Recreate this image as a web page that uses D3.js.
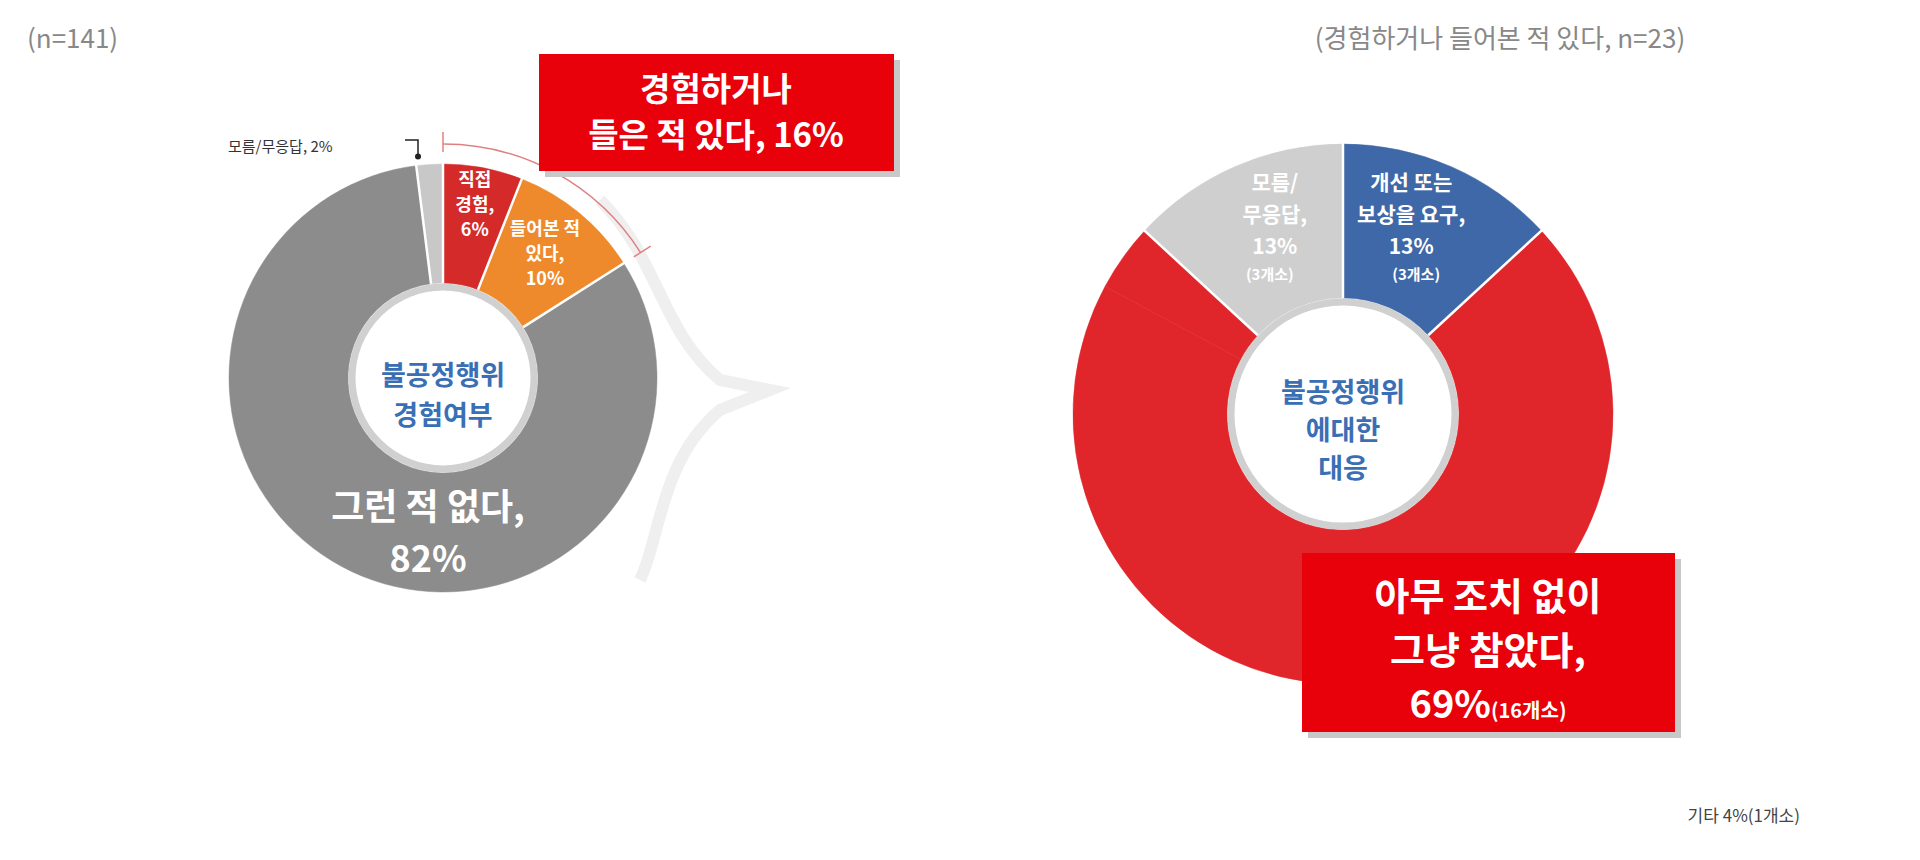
<!DOCTYPE html><html><head><meta charset="utf-8">
<script src="https://cdn.jsdelivr.net/npm/d3@7"></script>
<style>body{margin:0;background:#fff}svg{font-family:"Noto Sans CJK KR","Noto Sans",sans-serif}</style></head><body>
<svg id="c" width="1920" height="860"></svg>
<script>
const leftCats=["직접 경험","들어본 적 있다","그런 적 없다","모름/무응답"];
const leftVals=[6,10,82,2];
const leftColors=["#d42a2a","#ee8a2c","#8c8c8c","#c8c8c8"];
const rightCats=["개선 또는 보상을 요구","아무 조치 없이 그냥 참았다","기타","모름/무응답"];
const rightVals=[13,69,4,13];
const rightColors=["#3f68a8","#e0262a","#e0262a","#cfcfcf"];
const svg=d3.select("#c");
const pie=d3.pie().sort(null).value(d=>d);
function pol(cx,cy,r,a){return [cx+r*Math.sin(a),cy-r*Math.cos(a)];}

// faint arrow
svg.append("path").attr("d","M600,200 C660,260 660,330 720,380 L770,390 L720,410 C660,460 660,540 640,580")
 .attr("fill","none").attr("stroke","#efefef").attr("stroke-width",12);

function donut(cx,cy,R,r,vals,colors){
  const g=svg.append("g").attr("transform",`translate(${cx},${cy})`);
  const arcs=pie(vals);
  g.selectAll("path").data(arcs).join("path").attr("d",d3.arc().innerRadius(r).outerRadius(R))
   .attr("fill",(d,i)=>colors[i]).attr("stroke",(d,i)=>colors[i]).attr("stroke-width",0.5);
  arcs.forEach((d,i)=>{const prev=colors[(i+colors.length-1)%colors.length];
    if(prev!==colors[i]){const a=pol(0,0,r,d.startAngle),b=pol(0,0,R+1,d.startAngle);
      g.append("line").attr("x1",a[0]).attr("y1",a[1]).attr("x2",b[0]).attr("y2",b[1]).attr("stroke","#fff").attr("stroke-width",2.5);}});
  g.append("circle").attr("r",r-4).attr("fill","#fff").attr("stroke","#d0d0d0").attr("stroke-width",7);
  return arcs;
}
// left
const L={cx:443,cy:378,R:214,r:95};
const la=donut(L.cx,L.cy,L.R,L.r,leftVals,leftColors);
function txt(x,y,lines,size,fill,lh,weight){
  const t=svg.append("text").attr("x",x).attr("y",y).attr("text-anchor","middle").attr("fill",fill)
   .attr("font-size",size).attr("font-weight",weight||"bold");
  lines.forEach((s,i)=>t.append("tspan").attr("x",x).attr("dy",i?lh:0).text(s));
}
let p=pol(L.cx,L.cy,170,(la[0].startAngle+la[0].endAngle)/2);
txt(p[0],p[1]-25,["직접","경험,","6%"],18,"#fff",25);
p=pol(L.cx,L.cy,160,(la[1].startAngle+la[1].endAngle)/2);
txt(p[0],p[1]-20,["들어본 적","있다,","10%"],18,"#fff",25);
txt(L.cx-15,520,["그런 적 없다,","82%"],36,"#fff",52);
txt(L.cx,385,["불공정행위","경험여부"],27,"#3a6fb5",40);
// bracket arc
const br=L.R+20;
svg.append("path").attr("transform",`translate(${L.cx},${L.cy})`)
 .attr("d",d3.arc().innerRadius(br).outerRadius(br)(
   {startAngle:la[0].startAngle,endAngle:la[1].endAngle})).attr("fill","none").attr("stroke","#e08080").attr("stroke-width",1.5);
[la[0].startAngle,la[1].endAngle].forEach(a=>{const a1=pol(L.cx,L.cy,br-8,a),a2=pol(L.cx,L.cy,br+12,a);
 svg.append("line").attr("x1",a1[0]).attr("y1",a1[1]).attr("x2",a2[0]).attr("y2",a2[1]).attr("stroke","#e08080").attr("stroke-width",1.5);});
// small label 모름
svg.append("text").attr("x",228).attr("y",152).attr("font-size",15).attr("fill","#333").text("모름/무응답, 2%");
const pm=pol(L.cx,L.cy,L.R,(la[3].startAngle+la[3].endAngle)/2);
svg.append("path").attr("d",`M405,140 L418,140 L418,${pm[1]-8}`).attr("fill","none").attr("stroke","#222").attr("stroke-width",1.5);
svg.append("circle").attr("cx",418).attr("cy",pm[1]-8).attr("r",3).attr("fill","#222");
// callout box left
svg.append("rect").attr("x",545).attr("y",60).attr("width",355).attr("height",117).attr("fill","#c8c8c8");
svg.append("rect").attr("x",539).attr("y",54).attr("width",355).attr("height",117).attr("fill","#e8000b");
txt(716,101,["경험하거나","들은 적 있다, 16%"],33,"#fff",46);

// right
const R={cx:1343,cy:414,R:270,r:116};
const ra=donut(R.cx,R.cy,R.R,R.r,rightVals,rightColors);
p=pol(R.cx,R.cy,195,(ra[0].startAngle+ra[0].endAngle)/2);
txt(p[0]-10,p[1]-45,["개선 또는","보상을 요구,","13%"],21,"#fff",32);
svg.append("text").attr("x",p[0]-5).attr("y",p[1]+45).attr("text-anchor","middle").attr("font-size",15).attr("fill","#fff").attr("font-weight","bold").text("(3개소)");
p=pol(R.cx,R.cy,195,(ra[3].startAngle+ra[3].endAngle)/2);
txt(p[0]+10,p[1]-45,["모름/","무응답,","13%"],21,"#fff",32);
svg.append("text").attr("x",p[0]+5).attr("y",p[1]+45).attr("text-anchor","middle").attr("font-size",15).attr("fill","#fff").attr("font-weight","bold").text("(3개소)");
txt(R.cx,402,["불공정행위","에대한","대응"],27,"#3a6fb5",38);
svg.append("rect").attr("x",1308).attr("y",559).attr("width",373).attr("height",179).attr("fill","#c8c8c8");
svg.append("rect").attr("x",1302).attr("y",553).attr("width",373).attr("height",179).attr("fill","#e8000b");
txt(1488,610,["아무 조치 없이","그냥 참았다,"],38,"#fff",54);
const t3=svg.append("text").attr("x",1488).attr("y",718).attr("text-anchor","middle").attr("fill","#fff").attr("font-weight","bold");
t3.append("tspan").attr("font-size",38).text("69%");t3.append("tspan").attr("font-size",20).text("(16개소)");

svg.append("text").attr("x",27).attr("y",48).attr("font-size",26).attr("fill","#888").text("(n=141)");
svg.append("text").attr("x",1500).attr("y",48).attr("text-anchor","middle").attr("font-size",26).attr("fill","#888").text("(경험하거나 들어본 적 있다, n=23)");
svg.append("text").attr("x",1800).attr("y",822).attr("text-anchor","end").attr("font-size",17).attr("fill","#444").text("기타 4%(1개소)");
</script></body></html>
